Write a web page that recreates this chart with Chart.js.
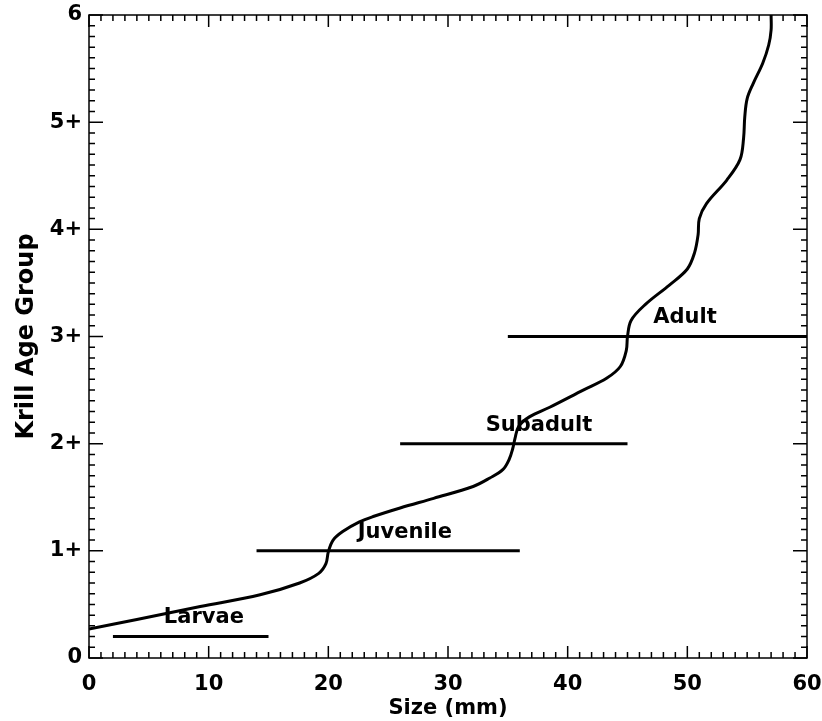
<!DOCTYPE html>
<html>
<head>
<meta charset="utf-8">
<script src="https://cdn.jsdelivr.net/npm/chart.js@4.4.1/dist/chart.umd.min.js"></script>
<style>
  html, body { margin: 0; padding: 0; background: #fff; }
  #wrap { width: 822px; height: 721px; }
</style>
</head>
<body>
<div id="wrap"><canvas id="myChart" width="822" height="721"></canvas></div>
<script>
// growth curve: size (mm) vs krill age group
const curveX = [0, 4, 9.3, 14.3, 17.6, 19.2, 19.8, 20.0, 20.4, 21.2, 22.6, 23.75, 26.0, 28.8, 32.1, 33.5, 34.6, 35.1, 35.4, 35.6, 35.9, 36.8, 38.5, 41.3, 43.25, 44.4, 44.9, 45.0, 45.3, 46.5, 48.5, 50.0, 50.6, 50.9, 51.0, 51.6, 53.3, 54.4, 54.7, 54.8, 55.0, 55.5, 56.3, 56.8, 57.0, 57.0];
const curveY = [0.27, 0.36, 0.48, 0.59, 0.70, 0.79, 0.88, 0.99, 1.10, 1.18, 1.27, 1.32, 1.40, 1.49, 1.60, 1.68, 1.76, 1.85, 1.95, 2.05, 2.16, 2.25, 2.34, 2.50, 2.61, 2.72, 2.87, 3.00, 3.15, 3.30, 3.48, 3.63, 3.78, 3.95, 4.10, 4.24, 4.46, 4.65, 4.85, 5.05, 5.22, 5.36, 5.55, 5.72, 5.86, 6.0];

// life stages: horizontal bars
const stageNames = ["Larvae", "Juvenile", "Subadult", "Adult"];
const stageStart = [2, 14, 26, 35];
const stageEnd = [15, 36, 45, 60];
const stageLevel = [0.2, 1, 2, 3];
const stageLabelX = [9.6, 26.4, 37.6, 49.8];
const stageLabelY = [0.38, 1.17, 2.17, 3.18];

const xTicks = [0, 10, 20, 30, 40, 50, 60];
const yTickLabels = ["0", "1+", "2+", "3+", "4+", "5+", "6"];

const FONT = "'DejaVu Sans', sans-serif";

const datasets = [{
  data: curveX.map((x, i) => ({ x: x, y: curveY[i] })),
  showLine: true,
  borderColor: "#000",
  borderWidth: 3,
  pointRadius: 0,
  tension: 0.35,
  fill: false,
}];
for (let i = 0; i < stageNames.length; i++) {
  datasets.push({
    data: [{ x: stageStart[i], y: stageLevel[i] }, { x: stageEnd[i], y: stageLevel[i] }],
    showLine: true,
    borderColor: "#000",
    borderWidth: 3,
    pointRadius: 0,
    fill: false,
  });
}

// frame with inward ticks on all four sides, plus stage names
const framePlugin = {
  id: "frame",
  afterDatasetsDraw(chart) {
    const ctx = chart.ctx;
    const a = chart.chartArea;
    const xs = chart.scales.x;
    const ys = chart.scales.y;
    ctx.save();
    ctx.strokeStyle = "#000";
    ctx.lineWidth = 1.5;
    ctx.strokeRect(a.left, a.top, a.right - a.left, a.bottom - a.top);
    ctx.beginPath();
    for (let v = 0; v <= 60; v++) {
      const px = xs.getPixelForValue(v);
      const len = v % 10 === 0 ? 12 : 6;
      ctx.moveTo(px, a.bottom);
      ctx.lineTo(px, a.bottom - len);
      ctx.moveTo(px, a.top);
      ctx.lineTo(px, a.top + len);
    }
    for (let k = 0; k <= 60; k++) {
      const py = ys.getPixelForValue(k / 10);
      const len = k % 10 === 0 ? 14 : 6;
      ctx.moveTo(a.left, py);
      ctx.lineTo(a.left + len, py);
      ctx.moveTo(a.right, py);
      ctx.lineTo(a.right - len, py);
    }
    ctx.stroke();

    ctx.fillStyle = "#000";
    ctx.font = "bold 21px " + FONT;
    ctx.textAlign = "center";
    ctx.textBaseline = "middle";
    for (let i = 0; i < stageNames.length; i++) {
      ctx.fillText(stageNames[i], xs.getPixelForValue(stageLabelX[i]), ys.getPixelForValue(stageLabelY[i]));
    }
    ctx.restore();
  }
};

new Chart(document.getElementById("myChart"), {
  type: "scatter",
  data: { datasets: datasets },
  options: {
    responsive: false,
    animation: false,
    layout: { padding: { top: 15, right: 15, left: 0, bottom: 0 } },
    plugins: {
      legend: { display: false },
      tooltip: { enabled: false },
    },
    scales: {
      x: {
        type: "linear",
        min: 0,
        max: 60,
        afterBuildTicks: (axis) => { axis.ticks = xTicks.map((v) => ({ value: v })); },
        afterFit: (axis) => {
          axis.height = 63;
          axis.paddingLeft = 0;
          axis.paddingRight = 0;
        },
        grid: { display: false, drawTicks: false },
        border: { display: false },
        ticks: {
          color: "#000",
          padding: 14,
          maxRotation: 0,
          font: { family: FONT, size: 21, weight: "bold" },
        },
        title: {
          display: true,
          text: "Size (mm)",
          color: "#000",
          padding: { top: 0, bottom: 0 },
          font: { family: FONT, size: 21, weight: "bold" },
        },
      },
      y: {
        type: "linear",
        min: 0,
        max: 6,
        afterBuildTicks: (axis) => { axis.ticks = yTickLabels.map((t, i) => ({ value: i })); },
        afterFit: (axis) => {
          axis.width = 89;
          axis.paddingTop = 0;
          axis.paddingBottom = 0;
        },
        grid: { display: false, drawTicks: false },
        border: { display: false },
        ticks: {
          color: "#000",
          padding: 7,
          callback: (v) => yTickLabels[v],
          font: { family: FONT, size: 21, weight: "bold" },
        },
        title: {
          display: true,
          text: "Krill Age Group",
          color: "#000",
          padding: { top: 12, bottom: 0 },
          font: { family: FONT, size: 24, weight: "bold" },
        },
      },
    },
  },
  plugins: [framePlugin],
});
</script>
</body>
</html>
